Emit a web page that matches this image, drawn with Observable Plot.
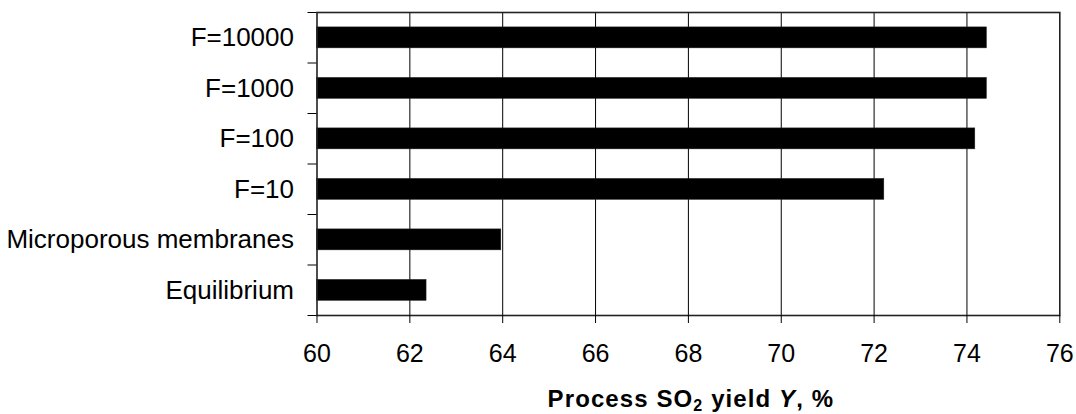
<!DOCTYPE html>
<html>
<head>
<meta charset="utf-8">
<script src="https://cdn.jsdelivr.net/npm/d3@7"></script>
<script src="https://cdn.jsdelivr.net/npm/@observablehq/plot@0.6"></script>
<style>
  html, body { margin: 0; padding: 0; background: #fff; }
  #chart svg { display: block; }
</style>
</head>
<body>
<div id="chart"></div>
<script>
// Categories listed top to bottom
const categories = ["F=10000", "F=1000", "F=100", "F=10", "Microporous membranes", "Equilibrium"];
// Process SO2 yield Y, %
const yields = [74.43, 74.43, 74.18, 72.22, 63.97, 62.36];
// Axis tick values
const xTicks = [60, 62, 64, 66, 68, 70, 72, 74, 76];

const rows = categories.map((name, i) => ({name, i, value: yields[i]}));
const fontFamily = "Arial, 'Liberation Sans', sans-serif";

const chart = Plot.plot({
  width: 1076,
  height: 414,
  marginLeft: 316.5,
  marginRight: 16.7,
  marginTop: 12,
  marginBottom: 99,
  style: {fontFamily, background: "#fff", color: "#000"},
  x: {domain: [60, 76]},
  y: {domain: [0, categories.length], reverse: true},
  marks: [
    Plot.gridX(xTicks.slice(1, -1), {stroke: "#000", strokeOpacity: 1, strokeWidth: 1}),
    Plot.rectX(rows, {
      x1: 60,
      x2: "value",
      y1: d => d.i + 0.295,
      y2: d => d.i + 0.71,
      fill: "#000",
      stroke: "#222",
      strokeWidth: 0.5
    }),
    Plot.frame({stroke: "#222", strokeWidth: 1.6}),
    Plot.axisX({
      ticks: xTicks,
      tickSize: 8,
      tickPadding: 21,
      fontSize: 25,
      label: null,
      stroke: "#000"
    }),
    // Category boundary ticks
    Plot.axisY({
      ticks: d3.range(0, categories.length + 1),
      tickSize: 9,
      tickFormat: () => "",
      label: null,
      stroke: "#000"
    }),
    // Category names at band centers
    Plot.axisY({
      ticks: categories.map((_, i) => i + 0.5),
      tickSize: 0,
      tickPadding: 23,
      tickFormat: v => categories[Math.floor(v)],
      fontSize: 26,
      label: null
    })
  ]
});

document.getElementById("chart").append(chart);

// Axis title with subscript and italic variable
const x = chart.scale("x");
const cx = (x.apply(60) + x.apply(76)) / 2 + 3;
const title = d3.select(chart).append("text")
  .attr("x", cx)
  .attr("y", 407)
  .attr("text-anchor", "middle")
  .attr("font-family", fontFamily)
  .attr("font-size", 24)
  .attr("font-weight", "bold")
  .attr("letter-spacing", "1.1px")
  .attr("fill", "#000");
title.append("tspan").text("Process SO");
title.append("tspan").attr("font-size", 16).attr("dy", 3.5).text("2");
title.append("tspan").attr("dy", -3.5).text(" yield ");
title.append("tspan").attr("font-style", "italic").text("Y");
title.append("tspan").text(", %");
</script>
</body>
</html>
